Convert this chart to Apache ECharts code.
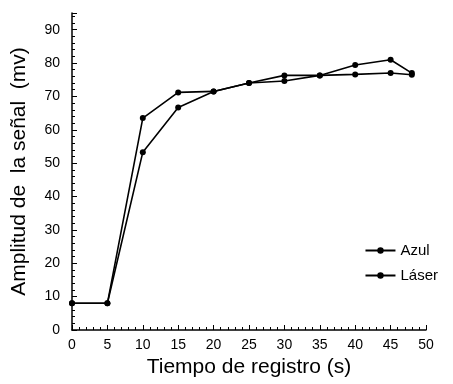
<!DOCTYPE html>
<html><head><meta charset="utf-8">
<script src="https://cdn.jsdelivr.net/npm/echarts@6/dist/echarts.min.js"></script>
<style>html,body{margin:0;padding:0;background:#fff}#c{width:453px;height:384px}</style>
</head><body><div id="c"></div>
<script>
const times = [0, 5, 10, 15, 20, 25, 30, 35, 40, 45, 48];
const azul  = [8, 8, 63.5, 71.2, 71.5, 74, 74.6, 76.3, 76.6, 77, 76.5];
const laser = [8, 8, 53.3, 66.7, 71.5, 74, 76.3, 76.3, 79.4, 81, 77];
const seriesNames = ['Azul', 'Láser'];
const xTitle = 'Tiempo de registro (s)';
const yTitle = 'Amplitud de  la señal  (mv)';

const font = 'Liberation Sans, Arial, sans-serif';
const chart = echarts.init(document.getElementById('c'), null, {renderer: 'canvas'});
function mk(name, vals) {
  return {
    name: name, type: 'line',
    data: times.map((t, i) => [t, vals[i]]),
    symbol: 'circle', symbolSize: 6,
    lineStyle: {color: '#000', width: 1.6},
    itemStyle: {color: '#000'},
    animation: false
  };
}
chart.setOption({
  animation: false,
  legend: {
    orient: 'vertical', right: 10, top: 238, itemGap: 10,
    itemWidth: 30, itemHeight: 8,
    textStyle: {fontFamily: font, fontSize: 15, color: '#000'},
    data: seriesNames
  },
  grid: {left: 72, right: 27, top: 13, bottom: 54, containLabel: false},
  xAxis: {
    type: 'value', min: 0, max: 50, interval: 5,
    name: xTitle, nameLocation: 'middle', nameGap: 26,
    nameTextStyle: {fontFamily: font, fontSize: 21, color: '#000'},
    axisLine: {lineStyle: {color: '#000', width: 1.5}},
    axisTick: {inside: true, length: 5, lineStyle: {color: '#000'}},
    minorTick: {show: true, splitNumber: 5, length: 3, lineStyle: {color: '#000'}},
    axisLabel: {fontFamily: font, fontSize: 14, color: '#000', margin: 8},
    splitLine: {show: false}
  },
  yAxis: {
    type: 'value', min: 0, max: 95, interval: 10,
    name: yTitle, nameLocation: 'middle', nameGap: 42,
    nameTextStyle: {fontFamily: font, fontSize: 21, color: '#000'},
    axisLine: {show: true, lineStyle: {color: '#000', width: 1.5}},
    axisTick: {inside: true, length: 5, lineStyle: {color: '#000'}},
    minorTick: {show: true, splitNumber: 5, length: 3, lineStyle: {color: '#000'}},
    axisLabel: {fontFamily: font, fontSize: 14, color: '#000', margin: 12, showMaxLabel: false},
    splitLine: {show: false}
  },
  series: [mk(seriesNames[0], azul), mk(seriesNames[1], laser)]
});
</script></body></html>
